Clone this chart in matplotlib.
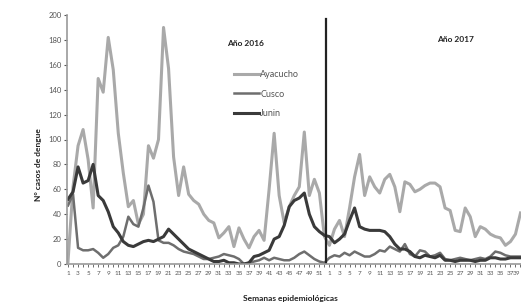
"""Dengue weekly cases Ayacucho / Cusco / Junin, 2016-2017."""
import matplotlib
matplotlib.use("Agg")
import matplotlib.pyplot as plt
import numpy as np

plt.rcParams["font.family"] = ["Lato", "DejaVu Sans"]

weeks_2016 = list(range(1, 53))
weeks_2017 = list(range(1, 40))

ayacucho = [2, 62, 95, 108, 84, 45, 149, 138, 182, 156, 105, 73, 46, 51, 32, 40,
            95, 85, 100, 190, 157, 86, 55, 78, 56, 51, 48, 40, 35, 33, 21, 25,
            30, 14, 29, 20, 13, 22, 27, 19, 60, 105, 55, 33, 46, 55, 62, 106,
            55, 68, 57, 22,
            15, 28, 35, 22, 45, 70, 88, 55, 70, 62, 57, 68, 72, 62, 42, 66,
            64, 58, 60, 63, 65, 65, 62, 45, 43, 27, 26, 45, 38, 22, 30, 28,
            24, 22, 21, 15, 18, 24, 41]

cusco = [47, 56, 13, 11, 11, 12, 9, 5, 8, 13, 15, 22, 38, 32, 30, 45,
         63, 50, 19, 17, 17, 15, 12, 10, 9, 8, 6, 4, 4, 5, 6, 8,
         7, 6, 4, 0, 1, 2, 3, 5, 3, 5, 4, 3, 3, 5, 8, 10,
         7, 4, 2, 1,
         5, 7, 6, 9, 7, 10, 8, 6, 6, 8, 11, 10, 14, 12, 10, 16,
         8, 6, 11, 10, 6, 7, 9, 4, 3, 4, 5, 4, 3, 4, 5, 4,
         6, 10, 9, 7, 6, 6, 6]

junin = [52, 58, 78, 65, 67, 80, 55, 51, 42, 30, 25, 18, 15, 14, 16, 18,
         19, 18, 20, 22, 28, 24, 20, 16, 12, 10, 8, 6, 4, 2, 2, 3,
         1, 1, 0, 0, 1, 6, 7, 9, 11, 20, 22, 31, 46, 51, 53, 57,
         40, 30, 26, 23,
         22, 17, 20, 24, 35, 45, 30, 28, 27, 27, 27, 26, 22, 16, 12, 12,
         10, 6, 5, 7, 6, 5, 7, 3, 3, 2, 3, 3, 3, 2, 3, 3,
         5, 5, 4, 4, 5, 5, 5]

series = [("Ayacucho", ayacucho, "#a9a9a9", 2.2),
          ("Cusco", cusco, "#6e6e6e", 1.8),
          ("Junin", junin, "#3a3a3a", 2.2)]

all_weeks = weeks_2016 + weeks_2017
x = np.arange(len(all_weeks))

fig = plt.figure(figsize=(5.21, 3.03), dpi=100)
ax = fig.add_axes([67 / 521, 1 - 264 / 303, 454 / 521, 249 / 303])

for name, vals, col, lw in series:
    ax.plot(x, vals, color=col, lw=lw, label=name, solid_joinstyle="round")

# year divider
split = len(weeks_2016) - 0.7
ax.plot([split, split], [0, 197], color="#222222", lw=1.6)

ax.set_xlim(-0.2, len(all_weeks) - 0.9)
ax.set_ylim(0, 200)
ax.set_yticks(np.arange(0, 201, 20))
ax.set_xticks(x, minor=True)
major = [i for i, w in enumerate(all_weeks) if w % 2 == 1]
ax.set_xticks(major)
ax.set_xticklabels([str(all_weeks[i]) for i in major])
ax.get_xticklabels()[-1].set_horizontalalignment("right")

for s in ["top", "right"]:
    ax.spines[s].set_visible(False)
for s in ["left", "bottom"]:
    ax.spines[s].set_color("#9a9a9a")
    ax.spines[s].set_linewidth(1.2)
ax.tick_params(axis="y", labelsize=5.5, colors="#555555", length=2, width=0.8, pad=2)
ax.tick_params(axis="x", which="both", labelsize=4.6, colors="#555555",
               length=2, width=0.6, pad=3)

ax.legend(loc="upper left", bbox_to_anchor=(226 / 521, 1 - 62 / 303),
          bbox_transform=fig.transFigure, frameon=False, fontsize=6.5,
          handlelength=2.8, handletextpad=0.1, labelspacing=1.15,
          labelcolor="#555555")

fig.text(245 / 521, 1 - 44 / 303, "Año 2016", fontsize=6, fontweight="bold",
         ha="center", va="center", color="#222222")
fig.text(455 / 521, 1 - 40 / 303, "Año 2017", fontsize=6, fontweight="bold",
         ha="center", va="center", color="#222222")
fig.text(38 / 521, 1 - 165 / 303, "N° casos de dengue", fontsize=6,
         fontweight="bold", rotation=90, ha="center", va="center", color="#222222")
fig.text(290 / 521, 1 - 298 / 303, "Semanas epidemiológicas", fontsize=6,
         fontweight="bold", ha="center", va="center", color="#222222")

fig.savefig("out.png", dpi=100)
plt.close(fig)
